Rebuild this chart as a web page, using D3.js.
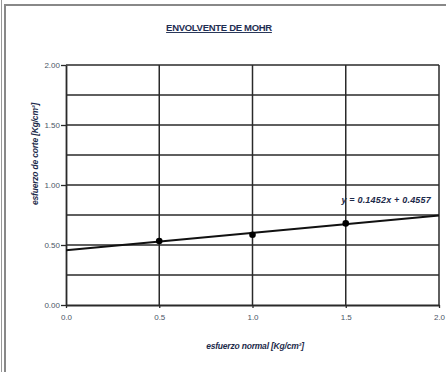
<!DOCTYPE html>
<html><head><meta charset="utf-8">
<script src="https://cdn.jsdelivr.net/npm/d3@7"></script>
<style>body{margin:0;background:#fff;}svg{display:block;}</style>
</head><body>
<script>
const xValues = [0.5, 1.0, 1.5];
const yValues = [0.533, 0.585, 0.68];
const xTicks = [0, 0.5, 1.0, 1.5, 2.0];
const yTicks = [0, 0.5, 1.0, 1.5, 2.0];
const yGrid = [0.25, 0.5, 0.75, 1.0, 1.25, 1.5, 1.75, 2.0];
const slope = 0.1452, intercept = 0.4557;
const title = "ENVOLVENTE DE MOHR";
const xLabel = "esfuerzo normal [Kg/cm²]";
const yLabel = "esfuerzo de corte [Kg/cm²]";
const eqLabel = "y = 0.1452x + 0.4557";

const W = 446, H = 372;
const svg = d3.select("body").append("svg").attr("width", W).attr("height", H);
svg.append("rect").attr("width", W).attr("height", H).attr("fill", "#fff");

// outer frame
svg.append("line").attr("x1",1.5).attr("x2",1.5).attr("y1",0).attr("y2",H).attr("stroke","#999").attr("stroke-width",1);
svg.append("line").attr("x1",5).attr("x2",5).attr("y1",5).attr("y2",H).attr("stroke","#888").attr("stroke-width",2);
svg.append("line").attr("x1",4).attr("x2",W).attr("y1",5).attr("y2",5).attr("stroke","#888").attr("stroke-width",2);

const x = d3.scaleLinear().domain([0, 2]).range([66, 439]);
const y = d3.scaleLinear().domain([0, 2]).range([305, 65]);

// grid
const g = svg.append("g");
g.selectAll(".hg").data(yGrid).join("line")
  .attr("x1", x(0)).attr("x2", x(2)).attr("y1", d => y(d)).attr("y2", d => y(d))
  .attr("stroke", "#2a2a2a").attr("stroke-width", 1.5);
g.selectAll(".vg").data(xTicks.slice(1)).join("line")
  .attr("x1", d => x(d)).attr("x2", d => x(d)).attr("y1", y(0)).attr("y2", y(2))
  .attr("stroke", "#2a2a2a").attr("stroke-width", 1.5);

// axes
const yAxis = d3.axisLeft(y).tickValues(yTicks).tickFormat(d3.format(".2f")).tickSize(5).tickSizeOuter(0);
const xAxis = d3.axisBottom(x).tickValues(xTicks).tickFormat(d3.format(".1f")).tickSize(3).tickSizeOuter(0);
const ya = svg.append("g").attr("transform", `translate(${x(0)},0)`).call(yAxis);
const xa = svg.append("g").attr("transform", `translate(0,${y(0)})`).call(xAxis);
[ya, xa].forEach(a => {
  a.select(".domain").attr("stroke", "#2a2a2a").attr("stroke-width", 1.8);
  a.selectAll(".tick line").attr("stroke", "#2a2a2a").attr("stroke-width", 1.3);
  a.selectAll("text").attr("font-family", "Liberation Sans, Arial, sans-serif")
    .attr("font-size", 8).attr("fill", "#4a5566");
});
ya.selectAll("text").attr("x", -6);
xa.selectAll("text").attr("y", 9);

// trendline
svg.append("line")
  .attr("x1", x(0)).attr("y1", y(intercept))
  .attr("x2", x(2)).attr("y2", y(intercept + slope * 2))
  .attr("stroke", "#111").attr("stroke-width", 2);

// points
svg.selectAll(".pt").data(xValues.map((v, i) => [v, yValues[i]])).join("circle")
  .attr("cx", d => x(d[0])).attr("cy", d => y(d[1])).attr("r", 3.3).attr("fill", "#000");

// equation
svg.append("text").attr("x", 431).attr("y", 203).attr("text-anchor", "end")
  .attr("font-family", "Liberation Sans, Arial, sans-serif").attr("font-size", 9)
  .attr("font-weight", "bold").attr("font-style", "italic").attr("fill", "#1c2a4a")
  .attr("letter-spacing", 0.2)
  .text(eqLabel);

// title
svg.append("text").attr("x", 219).attr("y", 31).attr("text-anchor", "middle")
  .attr("font-family", "Liberation Sans, Arial, sans-serif").attr("font-size", 9.5)
  .attr("font-weight", "bold").attr("fill", "#1f2e52").attr("letter-spacing", -0.3)
  .attr("text-decoration", "underline")
  .text(title);

// axis titles
svg.append("text").attr("x", 255).attr("y", 349).attr("text-anchor", "middle")
  .attr("font-family", "Liberation Sans, Arial, sans-serif").attr("font-size", 8.5)
  .attr("font-weight", "bold").attr("font-style", "italic").attr("fill", "#1c2a4a")
  .attr("letter-spacing", -0.2)
  .text(xLabel);
svg.append("text").attr("transform", "translate(38,154) rotate(-90)").attr("text-anchor", "middle")
  .attr("font-family", "Liberation Sans, Arial, sans-serif").attr("font-size", 8.5)
  .attr("font-weight", "bold").attr("font-style", "italic").attr("fill", "#1c2a4a")
  .attr("letter-spacing", -0.2)
  .text(yLabel);
</script>
</body></html>
